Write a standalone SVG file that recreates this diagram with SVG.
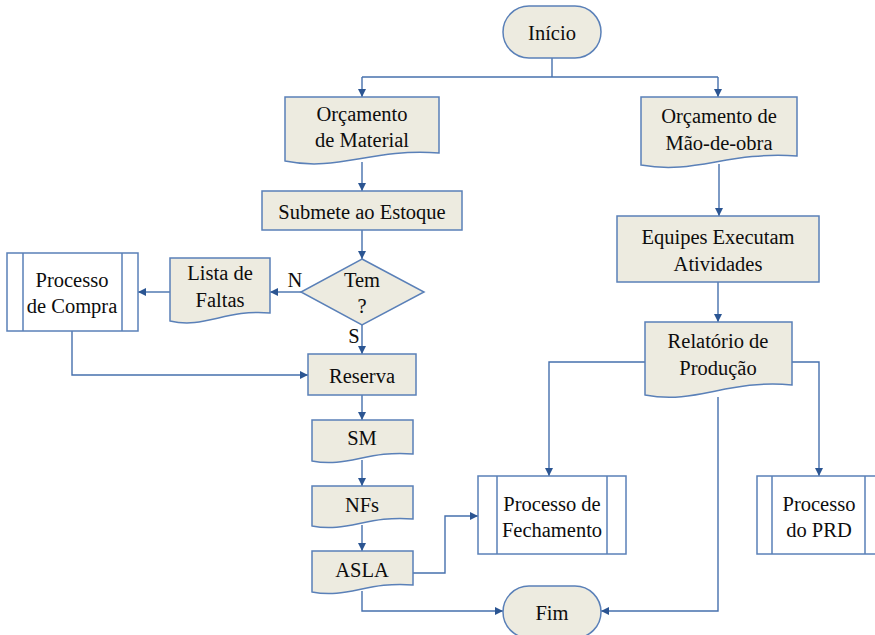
<svg xmlns="http://www.w3.org/2000/svg" width="875" height="635" viewBox="0 0 875 635">
  <defs>
    <marker id="arrow" viewBox="0 0 10 10" refX="10" refY="5" markerWidth="8" markerHeight="8" markerUnits="userSpaceOnUse" orient="auto">
      <path d="M0,0 L10,5 L0,10 Z" fill="#2b5592"/>
    </marker>
    <style>
      .shape { fill: #edebe0; stroke: #5a80b8; stroke-width: 1.5; }
      .plain { fill: #ffffff; stroke: #5a80b8; stroke-width: 1.5; }
      .bar { fill: none; stroke: #5a80b8; stroke-width: 1.5; }
      .link { fill: none; stroke: #4670ad; stroke-width: 1.4; }
      .arr { marker-end: url(#arrow); }
      text { font-family: "Liberation Serif", "Times New Roman", Times, serif; font-size: 20.5px; fill: #0d0d0d; text-anchor: middle; }
    </style>
  </defs>

  <rect width="875" height="635" fill="#ffffff"/>

  <!-- connectors -->
  <g id="connectors">
    <path class="link" d="M552,58 V77"/>
    <path class="link" d="M362,77 H718"/>
    <path class="link arr" d="M362,77 V97"/>
    <path class="link arr" d="M718,77 V97"/>
    <path class="link arr" d="M362,162 V191"/>
    <path class="link arr" d="M362,230 V259"/>
    <path class="link arr" d="M301,292 H270"/>
    <path class="link arr" d="M170,292 H138"/>
    <path class="link arr" d="M362,325 V354"/>
    <path class="link arr" d="M72,331 V375 H308"/>
    <path class="link arr" d="M362,395 V420"/>
    <path class="link arr" d="M362,460 V486"/>
    <path class="link arr" d="M362,525 V551"/>
    <path class="link arr" d="M413,573 H445 V516 H478"/>
    <path class="link arr" d="M362,591 V611 H503"/>
    <path class="link arr" d="M719,164 V216"/>
    <path class="link arr" d="M718,282 V322"/>
    <path class="link arr" d="M645,362 H549 V476"/>
    <path class="link arr" d="M792,362 H819 V476"/>
    <path class="link arr" d="M718,397 V611 H601"/>
  </g>

  <!-- start -->
  <g id="inicio">
    <rect class="shape" x="503" y="6" width="98" height="52" rx="26" ry="26"/>
    <text x="552" y="40">Início</text>
  </g>

  <!-- left branch: material -->
  <g id="orcamento-material">
    <path class="shape" d="M285,97 H439 V153 C370,148 339,172 285,161 Z"/>
    <text x="362" y="121">Orçamento</text>
    <text x="362" y="147">de Material</text>
  </g>

  <g id="submete-estoque">
    <rect class="shape" x="262" y="191" width="200" height="39"/>
    <text x="362" y="219">Submete ao Estoque</text>
  </g>

  <g id="tem">
    <path class="shape" d="M362,259 L424,292 L362,325 L301,292 Z"/>
    <text x="362" y="287">Tem</text>
    <text x="362" y="313">?</text>
  </g>

  <g id="labels">
    <text x="295" y="287">N</text>
    <text x="354" y="343">S</text>
  </g>

  <g id="lista-faltas">
    <path class="shape" d="M170,258 H270 V313 C225,309 205,329 170,321 Z"/>
    <text x="220" y="280">Lista de</text>
    <text x="220" y="307">Faltas</text>
  </g>

  <g id="processo-compra">
    <rect class="plain" x="7" y="253" width="131" height="78"/>
    <path class="bar" d="M23,253 V331 M122,253 V331"/>
    <text x="72" y="287">Processo</text>
    <text x="72" y="313">de Compra</text>
  </g>

  <g id="reserva">
    <rect class="shape" x="308" y="354" width="108" height="41"/>
    <text x="362" y="383">Reserva</text>
  </g>

  <g id="sm">
    <path class="shape" d="M312,420 H413 V454 C368,450 347,468 312,461 Z"/>
    <text x="362" y="445">SM</text>
  </g>

  <g id="nfs">
    <path class="shape" d="M312,486 H413 V519 C368,515 347,533 312,526 Z"/>
    <text x="362" y="512">NFs</text>
  </g>

  <g id="asla">
    <path class="shape" d="M312,551 H413 V585 C368,581 347,599 312,592 Z"/>
    <text x="362" y="577">ASLA</text>
  </g>

  <g id="processo-fechamento">
    <rect class="plain" x="478" y="476" width="148" height="78"/>
    <path class="bar" d="M497,476 V554 M607,476 V554"/>
    <text x="552" y="511">Processo de</text>
    <text x="552" y="537">Fechamento</text>
  </g>

  <!-- end -->
  <g id="fim">
    <rect class="shape" x="503" y="586" width="98" height="52" rx="26" ry="26"/>
    <text x="552" y="620">Fim</text>
  </g>

  <!-- right branch: labour -->
  <g id="orcamento-mao-de-obra">
    <path class="shape" d="M641,97 H797 V156 C727,151 696,175 641,165 Z"/>
    <text x="719" y="123">Orçamento de</text>
    <text x="719" y="150">Mão-de-obra</text>
  </g>

  <g id="equipes">
    <rect class="shape" x="617" y="216" width="202" height="66"/>
    <text x="718" y="244">Equipes Executam</text>
    <text x="718" y="271">Atividades</text>
  </g>

  <g id="relatorio">
    <path class="shape" d="M645,322 H792 V385 C727,379 697,405 645,395 Z"/>
    <text x="718" y="348">Relatório de</text>
    <text x="718" y="375">Produção</text>
  </g>

  <g id="processo-prd">
    <rect class="plain" x="757" y="476" width="123" height="78"/>
    <path class="bar" d="M772,476 V554 M865,476 V554"/>
    <text x="819" y="511">Processo</text>
    <text x="819" y="537">do PRD</text>
  </g>
</svg>
